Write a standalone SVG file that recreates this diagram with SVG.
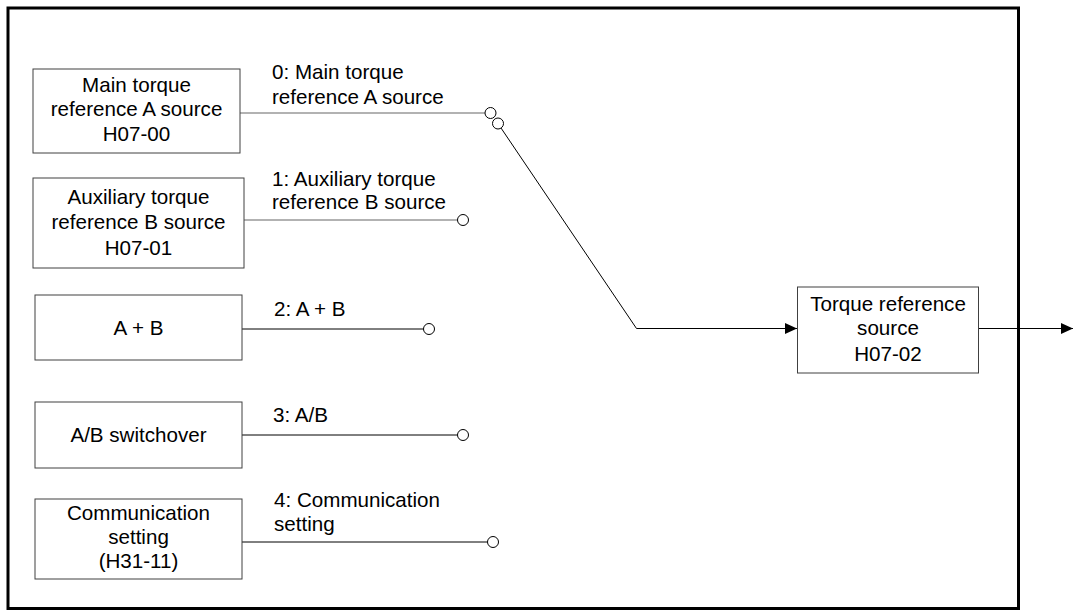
<svg xmlns="http://www.w3.org/2000/svg" width="1073" height="611" viewBox="0 0 1073 611">
<defs>
<style>
.box{fill:#fff;stroke:#404040;stroke-width:1}
.t{font-family:"Liberation Sans",Arial,sans-serif;font-size:20.6px;fill:#000}
.c{text-anchor:middle}
.ln{fill:none;stroke:#000;stroke-width:1}
.lg{fill:none;stroke:#666;stroke-width:1.2}
.pt{fill:#fff;stroke:#000;stroke-width:1}
</style>
<marker id="arr" viewBox="0 0 12 11" refX="12" refY="5.5" markerWidth="12" markerHeight="11" markerUnits="userSpaceOnUse" orient="auto">
<path d="M0,0 L12,5.5 L0,11 z" fill="#000"/>
</marker>
</defs>
<rect x="0" y="0" width="1073" height="611" fill="#fff"/>
<rect id="frame" x="8" y="8" width="1010.5" height="600.5" fill="none" stroke="#000" stroke-width="3"/>

<g id="connectors">
<line class="lg" x1="240" y1="113" x2="485" y2="113"/>
<line class="lg" x1="244" y1="220" x2="457.5" y2="220"/>
<line class="ln" x1="242" y1="329" x2="423.5" y2="329"/>
<line class="ln" x1="242" y1="435" x2="457.5" y2="435"/>
<line class="ln" x1="242" y1="542" x2="487.5" y2="542"/>
<polyline class="ln" points="501,128 636.5,328.5 797,328.5" marker-end="url(#arr)"/>
<line class="ln" x1="979" y1="328.5" x2="1073" y2="328.5" marker-end="url(#arr)"/>
<circle class="pt" cx="490.5" cy="113" r="5.5"/>
<circle class="pt" cx="498" cy="123.5" r="5.5"/>
<circle class="pt" cx="463" cy="220" r="5.5"/>
<circle class="pt" cx="429" cy="329" r="5.5"/>
<circle class="pt" cx="463" cy="435" r="5.5"/>
<circle class="pt" cx="493" cy="542" r="5.5"/>
<text class="t" x="272" y="79">0: Main torque</text>
<text class="t" x="272" y="104">reference A source</text>
<text class="t" x="272" y="186">1: Auxiliary torque</text>
<text class="t" x="272" y="209">reference B source</text>
<text class="t" x="274" y="316">2: A + B</text>
<text class="t" x="273" y="422">3: A/B</text>
<text class="t" x="274" y="507">4: Communication</text>
<text class="t" x="274" y="531">setting</text>
</g>

<g id="nodeA">
<rect class="box" x="33" y="69" width="207" height="84"/>
<text class="t c" x="136.5" y="92">Main torque</text>
<text class="t c" x="136.5" y="116">reference A source</text>
<text class="t c" x="136.5" y="141">H07-00</text>
</g>
<g id="nodeB">
<rect class="box" x="33" y="178" width="211" height="90"/>
<text class="t c" x="138.5" y="204">Auxiliary torque</text>
<text class="t c" x="138.5" y="229">reference B source</text>
<text class="t c" x="138.5" y="255">H07-01</text>
</g>
<g id="nodeAB">
<rect class="box" x="35" y="295" width="207" height="65"/>
<text class="t c" x="138.5" y="335">A + B</text>
</g>
<g id="nodeSw">
<rect class="box" x="35" y="402" width="207" height="66"/>
<text class="t c" x="138.5" y="442">A/B switchover</text>
</g>
<g id="nodeComm">
<rect class="box" x="35" y="499" width="207" height="80"/>
<text class="t c" x="138.5" y="520">Communication</text>
<text class="t c" x="138.5" y="544">setting</text>
<text class="t c" x="138.5" y="568">(H31-11)</text>
</g>
<g id="nodeOut">
<rect class="box" x="797.5" y="287" width="181" height="86"/>
<text class="t c" x="888" y="311">Torque reference</text>
<text class="t c" x="888" y="335">source</text>
<text class="t c" x="888" y="361">H07-02</text>
</g>
</svg>
